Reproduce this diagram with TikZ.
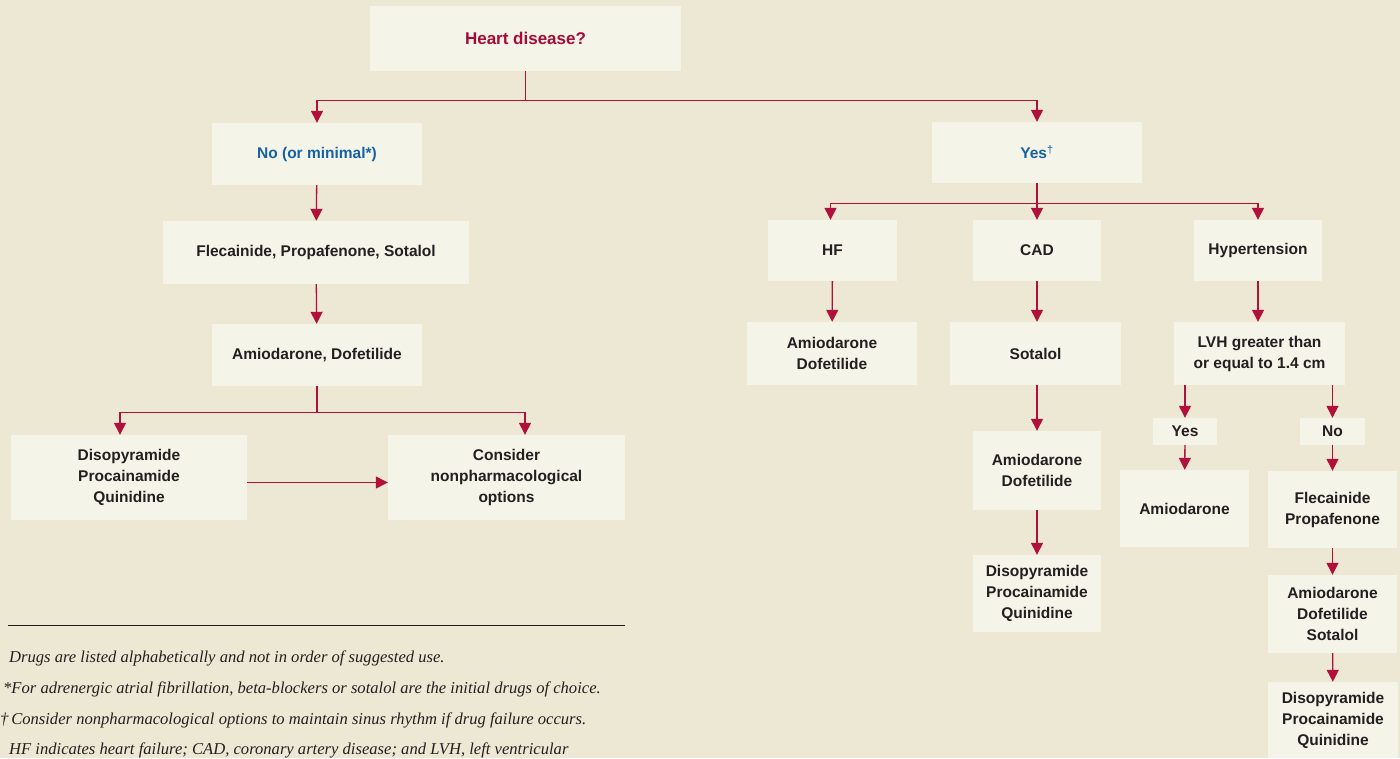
\documentclass[tikz,border=0pt]{standalone}
\usepackage{fontspec}
\setmainfont{Liberation Sans}
\newfontfamily\notefont{Liberation Serif}
\usetikzlibrary{arrows.meta}

\definecolor{pagebg}{RGB}{236,232,212}
\definecolor{boxfill}{RGB}{245,244,233}
\definecolor{flowred}{RGB}{176,16,58}
\definecolor{askred}{RGB}{166,10,56}
\definecolor{answerblue}{RGB}{22,98,160}
\definecolor{drugtext}{RGB}{35,31,32}

\begin{document}
\begin{tikzpicture}[x=1pt,y=-1pt,
    box/.style={fill=boxfill,inner sep=0pt,align=center,text=drugtext,
        font=\bfseries\fontsize{15.5}{21}\selectfont},
    wh/.style 2 args={minimum width=#1pt,minimum height=#2pt},
    arr/.style={draw=flowred,line width=1.3pt,-{Triangle[length=12pt,width=12pt]}},
    note/.style={anchor=base west,inner sep=0pt,text=drugtext,
        font=\notefont\itshape\fontsize{16.6}{20}\selectfont}]
        \fill[pagebg] (0,0) rectangle (1400,758);
        \useasboundingbox (0,0) rectangle (1400,758);
        % question and answers
        \node[box,wh={311}{65},text=askred,font=\bfseries\fontsize{17}{21}\selectfont] (heart) at (525.5,38.5) {Heart disease?};
        \node[box,wh={210}{62},text=answerblue] (no) at (317,154) {No (or minimal*)};
        \node[box,wh={210}{61},text=answerblue] (yes) at (1037,152.5) {Yes\textsuperscript{\mdseries\dag}};
        % no heart disease
        \node[box,wh={306}{63}] (flec) at (316,252.5) {Flecainide, Propafenone, Sotalol};
        \node[box,wh={210}{62}] (amio) at (317,355) {Amiodarone, Dofetilide};
        \node[box,wh={236}{85}] (diso) at (129,477.5) {Disopyramide\\Procainamide\\Quinidine};
        \node[box,wh={237}{85}] (consider) at (506.5,477.5) {Consider\\nonpharmacological\\options};
        % heart disease
        \node[box,wh={129}{61}] (hf) at (832.5,250.5) {HF};
        \node[box,wh={128}{61}] (cad) at (1037,250.5) {CAD};
        \node[box,wh={128}{61}] (hyp) at (1258,250.5) {Hypertension};
        \node[box,wh={170}{63}] (hfamio) at (832,353.5) {Amiodarone\\Dofetilide};
        \node[box,wh={171}{63}] (cadsot) at (1035.5,353.5) {Sotalol};
        \node[box,wh={128}{79}] (cadamio) at (1037,470.5) {Amiodarone\\Dofetilide};
        \node[box,wh={128}{77}] (caddiso) at (1037,593.5) {Disopyramide\\Procainamide\\Quinidine};
        \node[box,wh={171}{63}] (lvh) at (1259.5,353.5) {LVH greater than\\or equal to 1.4 cm};
        \node[box,wh={64}{27}] (lvhyes) at (1185,431.5) {Yes};
        \node[box,wh={65}{27}] (lvhno) at (1332.5,431.5) {No};
        \node[box,wh={129}{77}] (yesamio) at (1184.5,508.5) {Amiodarone};
        \node[box,wh={129}{77}] (noflec) at (1332.5,509.5) {Flecainide\\Propafenone};
        \node[box,wh={129}{78}] (noamio) at (1332.5,614) {Amiodarone\\Dofetilide\\Sotalol};
        \node[box,wh={130}{76}] (nodiso) at (1333,720) {Disopyramide\\Procainamide\\Quinidine};

        % connectors
        \draw[arr] (heart.south) -- ++(0,29) -| (no.north);
        \draw[arr] (heart.south) -- ++(0,29) -| (yes.north);
        \draw[arr] (no) -- (flec);
        \draw[arr] (flec) -- (amio);
        \draw[arr] (amio.south) -- ++(0,26) -| ([xshift=-9pt]diso.north);
        \draw[arr] (amio.south) -- ++(0,26) -| ([xshift=18.5pt]consider.north);
        \draw[arr] ([yshift=-5pt]diso.east) -- ([yshift=-5pt]consider.west);
        \draw[arr] (yes.south) -- ++(0,20) -| ([xshift=-2pt]hf.north);
        \draw[arr] (yes) -- (cad);
        \draw[arr] (yes.south) -- ++(0,20) -| (hyp.north);
        \draw[arr] (hf) -- (hfamio);
        \draw[arr] (cad.south) -- (cad.south |- cadsot.north);
        \draw[arr] (cadsot.south -| cadamio) -- (cadamio.north);
        \draw[arr] (cadamio) -- (caddiso);
        \draw[arr] (hyp.south) -- (hyp.south |- lvh.north);
        \draw[arr] (lvh.south -| lvhyes) -- (lvhyes.north);
        \draw[arr] (lvh.south -| lvhno) -- (lvhno.north);
        \draw[arr] (lvhyes) -- (yesamio);
        \draw[arr] (lvhno) -- (noflec);
        \draw[arr] (noflec) -- (noamio);
        \draw[arr] (noamio) -- (nodiso);

        % footnotes
        \draw[drugtext,line width=1pt] (8,625) -- (625,625);
        \node[note] (note1) at (9,662) {Drugs are listed alphabetically and not in order of suggested use.};
        \node[note] (note2) at (3,693) {*For adrenergic atrial fibrillation, beta-blockers or sotalol are the initial drugs of choice.};
        \node[note] (note3) at (0,724) {\dag\,Consider nonpharmacological options to maintain sinus rhythm if drug failure occurs.};
        \node[note] (note4) at (9,754) {HF indicates heart failure; CAD, coronary artery disease; and LVH, left ventricular};
\end{tikzpicture}
\end{document}
